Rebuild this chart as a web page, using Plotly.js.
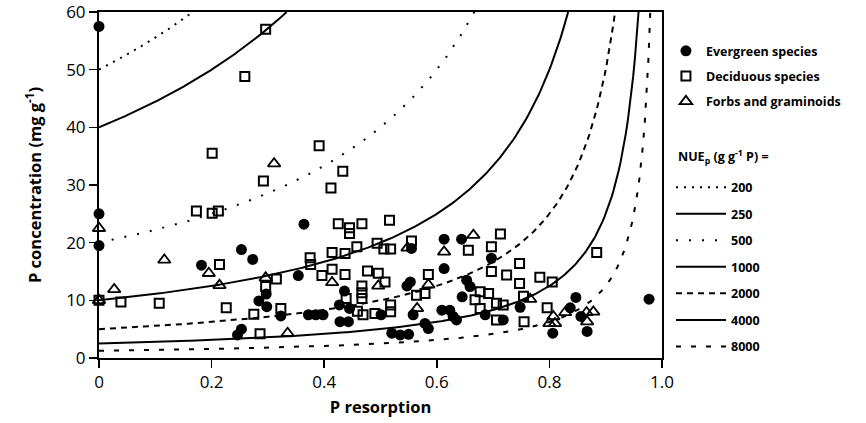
<!DOCTYPE html>
<html>
<head>
<meta charset="utf-8">
<script src="https://cdn.plot.ly/plotly-3.0.1.min.js"></script>
<style>
  html, body { margin: 0; padding: 0; background: #fff; }
  #chart { width: 866px; height: 423px; }
</style>
</head>
<body>
<div id="chart"></div>
<script>
// Phosphorus resorption vs. green-leaf P concentration, by growth form
const evergreenR = [0, 0, 0, 0.364, 0.253, 0.273, 0.182, 0.354, 0.297, 0.284, 0.298, 0.323, 0.253, 0.246,
  0.372, 0.385, 0.398, 0.428, 0.443, 0.445, 0.436, 0.427, 0.501, 0.547, 0.553, 0.558,
  0.520, 0.535, 0.550, 0.579, 0.585, 0.613, 0.613, 0.644, 0.697, 0.653, 0.659, 0.645,
  0.609, 0.623, 0.629, 0.635, 0.686, 0.718, 0.748, 0.806, 0.837, 0.847, 0.856, 0.867, 0.977, 0.555];
const evergreenP = [57.5, 25, 19.5, 23.2, 18.8, 17.1, 16.1, 14.3, 11.1, 9.9, 8.9, 7.3, 5.0, 4.0,
  7.5, 7.5, 7.5, 6.3, 6.3, 8.6, 11.6, 9.2, 7.5, 12.5, 13.2, 7.5,
  4.3, 4.0, 4.1, 6.0, 5.1, 20.6, 15.5, 20.6, 17.3, 13.5, 12.4, 10.6,
  8.3, 8.3, 7.2, 6.6, 7.5, 6.6, 8.8, 4.3, 8.7, 10.5, 7.2, 4.6, 10.2, 19.0];

const deciduousR = [0, 0.039, 0.107, 0.296, 0.259, 0.201, 0.292, 0.391, 0.433, 0.412,
  0.173, 0.201, 0.212, 0.214, 0.315, 0.296, 0.375, 0.376, 0.226, 0.275, 0.323, 0.286,
  0.425, 0.445, 0.445, 0.467, 0.516, 0.458, 0.494, 0.506, 0.518, 0.555, 0.414, 0.437,
  0.414, 0.396, 0.437, 0.477, 0.496, 0.508, 0.467, 0.467, 0.467, 0.439,
  0.459, 0.469, 0.490, 0.518, 0.518, 0.564, 0.579, 0.585,
  0.656, 0.697, 0.697, 0.713, 0.668, 0.677, 0.692, 0.677, 0.706,
  0.706, 0.718, 0.747, 0.724, 0.747, 0.783, 0.805, 0.884, 0.754, 0.755, 0.796];
const deciduousP = [10, 9.7, 9.5, 57.0, 48.8, 35.5, 30.7, 36.8, 32.4, 29.5,
  25.5, 25.1, 25.5, 16.2, 13.7, 12.4, 17.4, 16.2, 8.7, 7.6, 8.6, 4.2,
  23.3, 22.6, 21.6, 23.3, 23.9, 19.3, 19.9, 18.9, 18.9, 20.3, 18.3, 18.1,
  15.4, 14.3, 14.5, 15.1, 14.7, 13.2, 12.5, 11.3, 10.3, 10.3,
  8.1, 7.5, 7.7, 9.2, 8.0, 10.9, 11.2, 14.5,
  18.7, 19.3, 15.0, 21.5, 10.1, 11.5, 11.2, 8.6, 6.6,
  9.5, 9.2, 16.4, 14.4, 12.9, 14.0, 13.2, 18.3, 10.7, 6.3, 8.7];

const forbsR = [0, 0, 0.027, 0.116, 0.195, 0.214, 0.296, 0.311, 0.335,
  0.548, 0.414, 0.496, 0.565, 0.585, 0.613, 0.665,
  0.766, 0.807, 0.800, 0.810, 0.828, 0.866, 0.878, 0.867];
const forbsP = [22.5, 10, 11.9, 17.0, 14.7, 12.6, 13.9, 33.7, 4.3,
  19.1, 13.1, 12.5, 8.6, 12.7, 18.4, 21.3,
  10.2, 7.2, 6.0, 6.0, 7.9, 7.9, 8.0, 6.3];

// Iso-lines of P-use efficiency (g g-1 P)
const nueValues = [200, 250, 500, 1000, 2000, 4000, 8000];
const nueDash = ['2px,6px', 'solid', '2px,11px', 'solid', '6px,5px', 'solid', '5px,10px'];
const nueHeader = '<b>NUE<sub>p</sub> (g g<sup>-1</sup> P) =</b>';

const xTicks = [0, 0.2, 0.4, 0.6, 0.8, 1.0];
const xTickText = ['0', '0.2', '0.4', '0.6', '0.8', '1.0'];
const yTicks = [0, 10, 20, 30, 40, 50, 60];

const FONT = 'Open Sans, Noto Sans, sans-serif';
const Y_MAX = 60;

// P = 10000 / (NUE * (1 - r)), traced until it leaves the top of the axis
function isoLine(nue) {
  const k = 10000 / nue;
  const rEnd = 1 - k / Y_MAX;
  const xs = [], ys = [];
  const n = 300;
  for (let i = 0; i <= n; i++) {
    const r = rEnd * i / n;
    xs.push(r);
    ys.push(k / (1 - r));
  }
  return { xs, ys };
}

const traces = [];
nueValues.forEach((nue, i) => {
  const c = isoLine(nue);
  traces.push({
    type: 'scatter', mode: 'lines', x: c.xs, y: c.ys,
    name: '<b>' + nue + '</b>',
    line: { color: '#000', width: 2, dash: nueDash[i] },
    legend: 'legend2', legendgroup: 'n' + i,
    hoverinfo: 'skip'
  });
});

traces.push({
  type: 'scatter', mode: 'markers', x: evergreenR, y: evergreenP,
  name: '<b>Evergreen species</b>', cliponaxis: false,
  marker: { symbol: 'circle', size: 11, color: '#000' },
  legend: 'legend', legendgroup: 'a'
});
traces.push({
  type: 'scatter', mode: 'markers', x: deciduousR, y: deciduousP,
  name: '<b>Deciduous species</b>', cliponaxis: false,
  marker: { symbol: 'square-open', size: 9, color: '#000', line: { width: 2, color: '#000' } },
  legend: 'legend', legendgroup: 'b'
});
traces.push({
  type: 'scatter', mode: 'markers', x: forbsR, y: forbsP,
  name: '<b>Forbs and graminoids</b>', cliponaxis: false,
  marker: { symbol: 'triangle-up-open', size: 11, color: '#000', line: { width: 1.8, color: '#000' } },
  legend: 'legend', legendgroup: 'c'
});

const axisCommon = {
  showgrid: false, zeroline: false,
  linecolor: '#000', linewidth: 2, mirror: true,
  ticks: 'outside', ticklen: 8, tickwidth: 1.5, tickcolor: '#000',
  ticklabeloverflow: 'allow',
  tickfont: { family: FONT, size: 17, color: '#000' }
};

const layout = {
  width: 866, height: 423,
  margin: { l: 99, r: 204, t: 12, b: 65 },
  paper_bgcolor: '#fff', plot_bgcolor: '#fff',
  font: { family: FONT, color: '#000' },
  showlegend: true,
  xaxis: Object.assign({}, axisCommon, {
    range: [0, 1], tickvals: xTicks, ticktext: xTickText,
    title: { text: '<b>P resorption</b>', font: { family: FONT, size: 16.5 }, standoff: 9 }
  }),
  yaxis: Object.assign({}, axisCommon, {
    range: [0, 60], tickvals: yTicks,
    title: { text: '<b>P concentration (mg g<sup>-1</sup>)</b>', font: { family: FONT, size: 16.5 }, standoff: 20 }
  }),
  legend: {
    x: 1.007, xanchor: 'left', y: 0.93, yanchor: 'top',
    font: { family: FONT, size: 12.5, color: '#000' },
    tracegroupgap: 6, bgcolor: 'rgba(0,0,0,0)'
  },
  legend2: {
    x: 1.016, xanchor: 'left', y: 0.536, yanchor: 'top',
    font: { family: FONT, size: 12.5, color: '#000' },
    itemwidth: 50,
    tracegroupgap: 7.3, bgcolor: 'rgba(0,0,0,0)'
  },
  annotations: [{
    xref: 'paper', yref: 'paper', x: 1.025, y: 0.581,
    xanchor: 'left', yanchor: 'middle', showarrow: false,
    text: nueHeader, font: { family: FONT, size: 12.5, color: '#000' }
  }]
};

Plotly.newPlot('chart', traces, layout, { displayModeBar: false, staticPlot: true });
</script>
</body>
</html>
